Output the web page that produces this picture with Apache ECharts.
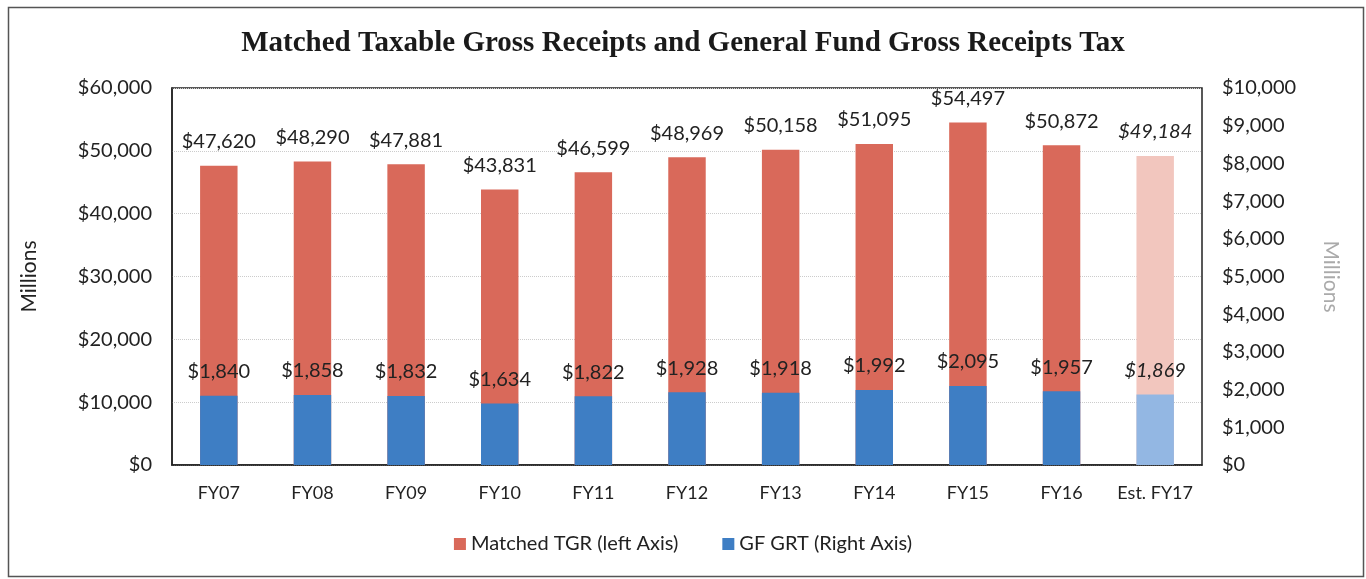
<!DOCTYPE html>
<html><head><meta charset="utf-8">
<script src="https://cdn.jsdelivr.net/npm/echarts@6/dist/echarts.min.js"></script>
<style>html,body{margin:0;padding:0;background:#fff}#c{width:1366px;height:579px}</style>
</head><body><div id="c"></div>
<script>
const categories = ['FY07','FY08','FY09','FY10','FY11','FY12','FY13','FY14','FY15','FY16','Est. FY17'];
const tgrValues = [47620,48290,47881,43831,46599,48969,50158,51095,54497,50872,49184];
const grtValues = [1840,1858,1832,1634,1822,1928,1918,1992,2095,1957,1869];
const leftTicks = {min:0, max:60000, interval:10000};
const rightTicks = {min:0, max:10000, interval:1000};

const RED = '#D9695A', RED_EST = '#F2C6BE', BLUE = '#3E7EC4', BLUE_EST = '#93B7E3';
const fmt = v => '$' + v.toLocaleString('en-US');
const lastIdx = categories.length - 1;

function mk(vals, color, estColor) {
  return vals.map((v, i) => {
    const est = i === lastIdx;
    return {
      value: v,
      itemStyle: {color: est ? estColor : color},
      label: est ? {fontStyle: 'italic'} : undefined
    };
  });
}

const chart = echarts.init(document.getElementById('c'));
chart.setOption({
  animation: false,
  textStyle: {fontFamily: 'Lato, "Open Sans", sans-serif'},
  title: {
    text: 'Matched Taxable Gross Receipts and General Fund Gross Receipts Tax',
    left: 'center', top: 24,
    textStyle: {fontFamily: '"Liberation Serif", "DejaVu Serif", serif', fontWeight: 'bold', fontSize: 29, color: '#1a1a1a'}
  },
  graphic: [{
    type: 'rect', left: 6, top: 5, shape: {width: 1355, height: 569},
    style: {fill: 'none', stroke: '#555', lineWidth: 1.5}, silent: true
  }],
  legend: {
    bottom: 20, left: 'center', itemWidth: 12, itemHeight: 12, itemGap: 44, icon: 'rect',
    textStyle: {fontSize: 20, color: '#222'},
    data: [{name: 'Matched TGR (left Axis)', itemStyle: {color: RED}}, {name: 'GF GRT (Right Axis)', itemStyle: {color: BLUE}}]
  },
  grid: {left: 172, right: 164, top: 88, bottom: 114, show: true, borderColor: '#222', borderWidth: 1.5, backgroundColor: 'transparent'},
  xAxis: {
    type: 'category', data: categories,
    axisLine: {lineStyle: {color: '#222', width: 1.5}},
    axisTick: {show: false},
    axisLabel: {fontSize: 18, color: '#222', margin: 19, interval: 0}
  },
  yAxis: [{
    type: 'value', min: leftTicks.min, max: leftTicks.max, interval: leftTicks.interval,
    name: 'Millions', nameLocation: 'middle', nameGap: 132, nameRotate: 90,
    nameTextStyle: {fontSize: 21, color: '#222'},
    axisLine: {show: true, lineStyle: {color: '#222', width: 1.5}},
    axisTick: {show: false},
    axisLabel: {fontSize: 20, color: '#222', margin: 20, formatter: fmt},
    splitLine: {show: true, lineStyle: {color: '#ccc', type: 'dotted', width: 1}}
  }, {
    type: 'value', min: rightTicks.min, max: rightTicks.max, interval: rightTicks.interval,
    name: 'Millions', nameLocation: 'middle', nameGap: 118, nameRotate: -90,
    nameTextStyle: {fontSize: 21, color: '#aaa'},
    axisLine: {show: false}, axisTick: {show: false},
    axisLabel: {fontSize: 20, color: '#222', margin: 20, formatter: fmt},
    splitLine: {show: false}
  }],
  series: [{
    name: 'Matched TGR (left Axis)', type: 'bar', yAxisIndex: 0,
    data: mk(tgrValues, RED, RED_EST), barWidth: '40%', barGap: '-100%',
    label: {show: true, position: 'top', distance: 14, fontSize: 20, color: '#222', formatter: p => fmt(p.value)}
  }, {
    name: 'GF GRT (Right Axis)', type: 'bar', yAxisIndex: 1,
    data: mk(grtValues, BLUE, BLUE_EST), barWidth: '40%',
    label: {show: true, position: 'top', distance: 14, fontSize: 20, color: '#222', formatter: p => fmt(p.value)}
  }]
});
</script></body></html>
